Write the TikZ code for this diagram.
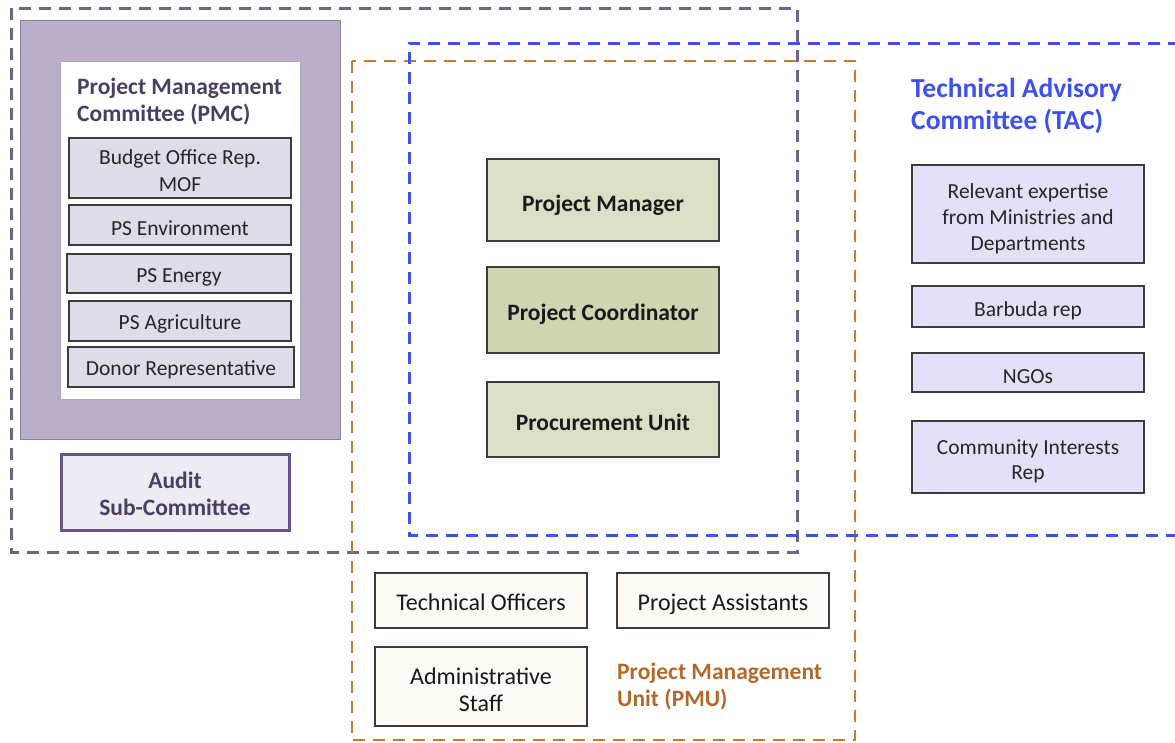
\documentclass[tikz,border=0pt]{standalone}
\usepackage{fontspec}
\setmainfont{Carlito}
\definecolor{pmcdash}{HTML}{6F6488}
\definecolor{pmcfill}{HTML}{B9AFCA}
\definecolor{pmcline}{HTML}{8C82A0}
\definecolor{memfill}{HTML}{DFDBE8}
\definecolor{boxline}{HTML}{3C3C3C}
\definecolor{auditfill}{HTML}{EEECF3}
\definecolor{auditline}{HTML}{65548A}
\definecolor{pmctext}{HTML}{4B3D63}
\definecolor{tacblue}{HTML}{3D50F2}
\definecolor{tacfill}{HTML}{E2E1FA}
\definecolor{pmuorange}{HTML}{C27A37}
\definecolor{pmutext}{HTML}{B3682C}
\definecolor{greenA}{HTML}{DADFC5}
\definecolor{greenB}{HTML}{CDD6B0}
\definecolor{creamfill}{HTML}{FFFAF5}
\tikzset{
  regtext/.style={font=\fontsize{21.5}{26.5}\selectfont, align=center, inner sep=0pt},
  bigtext/.style={font=\fontsize{24}{26.5}\selectfont, align=center, inner sep=0pt},
  boldtext/.style={font=\fontsize{23.5}{27}\selectfont\bfseries, align=center, inner sep=0pt},
  titletext/.style={font=\fontsize{23.5}{27}\selectfont\bfseries, align=left, inner sep=0pt, anchor=west},
  basebox/.style={draw=boxline, line width=1.8pt, inner sep=0pt, rectangle},
  member/.style={basebox, fill=memfill},
  greenbox/.style={basebox, fill=greenA, minimum width=232pt},
  tacbox/.style={basebox, fill=tacfill, minimum width=232pt},
  pmubox/.style={basebox, fill=creamfill, minimum width=212pt},
  groupdash/.style={line width=3pt, dash pattern=on 12pt off 8pt},
}
\begin{document}
\begin{tikzpicture}[x=1pt,y=-1pt]
\useasboundingbox (0,0) rectangle (1175,742);
% PMC block
\draw[pmcline, line width=1pt, fill=pmcfill] (20,20) rectangle (340,439);
\draw[pmcline!70, line width=1pt, fill=white] (60,61) rectangle (300,399);
\node[titletext, text=pmctext] (pmctitle) at (77,102) {Project Management\\Committee (PMC)};
\node[member, minimum width=222pt, minimum height=60pt] (budget) at (180,168) {};
\node[member, minimum width=222pt, minimum height=40pt] (psenv) at (180,225) {};
\node[member, minimum width=224pt, minimum height=39pt] (psenergy) at (179,273.5) {};
\node[member, minimum width=222pt, minimum height=40pt] (psagri) at (180,321) {};
\node[member, minimum width=226pt, minimum height=40pt] (donor) at (181,367) {};
\node[regtext, text=black!85] (budgetT) at ([yshift=-2.5pt]budget.center) {Budget Office Rep.\\MOF};
\node[regtext, text=black!85] (psenvT) at ([yshift=-3pt]psenv.center) {PS Environment};
\node[regtext, text=black!85] (psenergyT) at ([yshift=-4pt]psenergy.center) {PS Energy};
\node[regtext, text=black!85] (psagriT) at ([yshift=-3pt]psagri.center) {PS Agriculture};
\node[regtext, text=black!85] (donorT) at ([yshift=-3pt]donor.center) {Donor Representative};
\node[basebox, draw=auditline, line width=3pt, fill=auditfill, minimum width=228pt, minimum height=76pt] (audit) at (175,492) {};
\node[boldtext, text=pmctext] (auditT) at ([yshift=-2pt]audit.center) {Audit\\Sub-Committee};
% PMU centre boxes
\node[greenbox, fill=greenA, minimum height=82pt] (pm) at (603,200) {};
\node[greenbox, fill=greenB, minimum height=86pt] (pc) at (603,310) {};
\node[greenbox, fill=greenA, minimum height=75pt] (pu) at (603,419.5) {};
\node[boldtext, text=black!90] (pmT) at ([yshift=-5pt]pm.center) {Project Manager};
\node[boldtext, text=black!90] (pcT) at ([yshift=-4pt]pc.center) {Project Coordinator};
\node[boldtext, text=black!90] (puT) at ([yshift=-3pt]pu.center) {Procurement Unit};
% TAC
\node[titletext, font=\fontsize{27.5}{32}\selectfont\bfseries, text=tacblue] (tactitle) at (911,106) {Technical Advisory\\Committee (TAC)};
\node[tacbox, minimum height=98pt] (relevant) at (1028,214) {};
\node[tacbox, minimum height=41pt] (barbuda) at (1028,306.5) {};
\node[tacbox, minimum height=39pt] (ngos) at (1028,372.5) {};
\node[tacbox, minimum height=72pt] (community) at (1028,457) {};
\node[regtext, font=\fontsize{21.5}{26}\selectfont, text=black!85] (relevantT) at ([yshift=-4.5pt]relevant.center) {Relevant expertise\\from Ministries and\\Departments};
\node[regtext, text=black!85] (barbudaT) at ([yshift=-4.5pt]barbuda.center) {Barbuda rep};
\node[regtext, text=black!85] (ngosT) at ([yshift=-4.5pt]ngos.center) {NGOs};
\node[regtext, font=\fontsize{21.5}{25}\selectfont, text=black!85] (communityT) at ([yshift=-4pt]community.center) {Community Interests\\Rep};
% PMU bottom boxes
\node[pmubox, minimum height=55pt] (techoff) at (481,600.5) {};
\node[pmubox, minimum height=55pt] (projass) at (723,600.5) {};
\node[pmubox, minimum height=79pt] (admin) at (481,686.5) {};
\node[bigtext, text=black!90] (techoffT) at ([yshift=-2pt]techoff.center) {Technical Officers};
\node[bigtext, text=black!90] (projassT) at ([yshift=-3.5pt]projass.center) {Project Assistants};
\node[bigtext, text=black!90] (adminT) at ([yshift=-3pt]admin.center) {Administrative\\Staff};
\node[titletext, text=pmutext] (pmutitle) at (617,686.5) {Project Management\\Unit (PMU)};
% group outlines
\draw[groupdash, pmcdash] (11,8) rectangle (797,552);
\draw[groupdash, pmuorange, line width=2.6pt] (352,61) rectangle (855,740);
\draw[groupdash, tacblue] (1180,43) -| (409,535) -- (1180,535);
\end{tikzpicture}
\end{document}
